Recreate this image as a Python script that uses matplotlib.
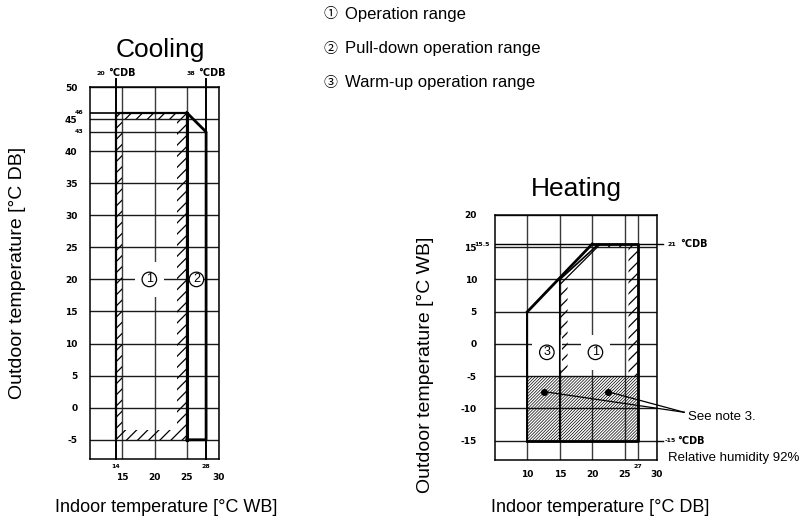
import numpy as np
import matplotlib.pyplot as plt
from matplotlib.path import Path
from matplotlib.patches import PathPatch

plt.rcParams['font.family'] = ['Liberation Sans', 'Noto Sans CJK JP', 'DejaVu Sans']

W, H = 799, 521

# Cooling chart
cool_xticks = [15, 20, 25, 30]
cool_yticks = [-5, 0, 5, 10, 15, 20, 25, 30, 35, 40, 45, 50]
cool_op_x = [14, 14, 25, 25]            # operation range (1)
cool_op_y = [-5, 46, 46, -5]
cool_band_x = [15, 15, 23.5, 23.5]       # inner edge of the hatched band
cool_band_y = [-3.5, 45, 45, -3.5]
cool_pd_x = [25, 28, 28, 25]             # pull-down range (2)
cool_pd_y = [46, 43, -5, -5]
cool_limit_x = [14, 28]
cool_limit_db = ['20', '38']
cool_limit_y = [46, 43]

# Heating chart
heat_xticks = [10, 15, 20, 25, 30]
heat_yticks = [-15, -10, -5, 0, 5, 10, 15, 20]
heat_op_x = [15, 15, 21, 27, 27]         # operation range (1), above -5
heat_op_y = [-5, 10, 15.5, 15.5, -5]
heat_band_x = [16.2, 16.2, 21.9, 25.6, 25.6]
heat_band_y = [-5, 9.8, 15, 15, -5]
heat_wu_x = [10, 20]                     # warm-up range (3) boundary
heat_wu_y = [5, 15.5]
heat_note_x = [10, 27]                   # see note 3 area
heat_note_y = [-15, -5]
note_dot_x = [12.6, 22.4]
note_dot_y = [-7.4, -7.4]
note_tip = (34.2, -10.6)
heat_limit_y = [15.5, -15]
heat_limit_db = ['21', '-15']

legend_items = ['Operation range', 'Pull-down operation range', 'Warm-up operation range']
legend_marks = ['\u2460', '\u2461', '\u2462']

tick_font = dict(family=['Liberation Sans Narrow', 'DejaVu Sans'], weight='bold')


def fx(x):
    return x / W


def fy(y):
    return 1 - y / H


def ring(xo, yo, xi, yi):
    # closed outer outline with the inner outline cut out of it
    outer = list(zip(xo, yo))
    inner = list(zip(xi, yi))[::-1]
    verts = outer + [outer[0]] + inner + [inner[0]]
    codes = ([Path.MOVETO] + [Path.LINETO] * (len(outer) - 1) + [Path.CLOSEPOLY] +
             [Path.MOVETO] + [Path.LINETO] * (len(inner) - 1) + [Path.CLOSEPOLY])
    return Path(verts, codes)


def circled(ax, x, y, s, gap=True):
    if gap:
        ax.text(x, y, s, color='none', fontsize=9, ha='center', va='center', zorder=2,
                bbox=dict(boxstyle='square,pad=0.9', fc='white', ec='none'))
    ax.text(x, y, s, fontsize=9, ha='center', va='center', zorder=4,
            bbox=dict(boxstyle='circle,pad=0.1', fc='white', ec='black', lw=0.9))


def style_axes(ax, xlim, ylim, xticks, yticks, xpad, ypad):
    ax.set_xlim(*xlim)
    ax.set_ylim(*ylim)
    ax.set_xticks(xticks, [str(v) for v in xticks], fontsize=6.5, **tick_font)
    ax.set_yticks(yticks, [str(v) for v in yticks], fontsize=6.5, **tick_font)
    ax.tick_params(length=0)
    ax.tick_params(axis='x', pad=xpad)
    ax.tick_params(axis='y', pad=ypad)
    for sp in ax.spines.values():
        sp.set_linewidth(1.1)
    for v in xticks:
        ax.axvline(v, color='#3a3a3a', lw=1.0, zorder=1)
    for v in yticks:
        ax.axhline(v, color='#1a1a1a', lw=1.0, zorder=1)


fig = plt.figure(figsize=(W / 100, H / 100), dpi=100)

# ---------------- Cooling ----------------
ax1 = fig.add_axes([fx(90), fy(459), fx(129), (459 - 87) / H])
style_axes(ax1, (10, 30), (-8, 50), cool_xticks, cool_yticks, 10, 9)

plt.rcParams['hatch.linewidth'] = 0.9
ax1.add_patch(PathPatch(ring(cool_op_x, cool_op_y, cool_band_x, cool_band_y),
                        fc='none', ec='black', lw=0, hatch='///', zorder=2))

# limit lines running past the top of the frame
for x in cool_limit_x:
    ax1.plot([x, x], [-8, 51.2], color='black', lw=1.4, clip_on=False, zorder=3)
ax1.plot([10, 25], [cool_limit_y[0]] * 2, color='black', lw=1.2, zorder=3)
ax1.plot([10, 28], [cool_limit_y[1]] * 2, color='#1a1a1a', lw=1.0, zorder=1)

ax1.plot(cool_op_x, cool_op_y, color='black', lw=1.6, zorder=3)
ax1.plot(cool_pd_x, cool_pd_y, color='black', lw=2.0, zorder=3)
ax1.plot([25, 25], [-5, 46], color='black', lw=2.2, zorder=3)

circled(ax1, 19.2, 20, '1')
circled(ax1, 26.5, 20, '2', gap=False)

for x, db in zip(cool_limit_x, cool_limit_db):
    ax1.annotate(db, xy=(x, 50), xytext=(-11, 14), textcoords='offset pixels',
                 ha='right', va='center', fontsize=4.5, annotation_clip=False, **tick_font)
    ax1.annotate('°CDB', xy=(x, 50), xytext=(-8, 14), textcoords='offset pixels',
                 ha='left', va='center', fontsize=7, annotation_clip=False, **tick_font)
    ax1.annotate(str(x), xy=(x, -8), xytext=(0, -8), textcoords='offset pixels',
                 ha='center', va='center', fontsize=4.5, annotation_clip=False, **tick_font)
for y in cool_limit_y:
    ax1.annotate(str(y), xy=(10, y), xytext=(-7, 0), textcoords='offset pixels',
                 ha='right', va='center', fontsize=4.5, annotation_clip=False, **tick_font)

fig.text(fx(160), fy(57), 'Cooling', fontsize=19, ha='center', va='baseline')
fig.text(fx(18), fy(273), 'Outdoor temperature [°C DB]', fontsize=14,
         rotation=90, ha='center', va='center')
fig.text(fx(166), fy(508), 'Indoor temperature [°C WB]', fontsize=13,
         ha='center', va='center')

# ---------------- Heating ----------------
ax2 = fig.add_axes([fx(495), fy(460), fx(162), (460 - 215) / H])
style_axes(ax2, (5, 30), (-18, 20), heat_xticks, heat_yticks, 7, 13)
ax2.axvline(27, color='#3a3a3a', lw=1.0, zorder=1)
ax2.axhline(15.5, color='black', lw=1.0, zorder=1)
for y in heat_limit_y:
    ax2.plot([30, 30.9], [y, y], color='black', lw=1.0, clip_on=False)

plt.rcParams['hatch.linewidth'] = 0.9
ax2.add_patch(PathPatch(ring(heat_op_x, heat_op_y, heat_band_x, heat_band_y),
                        fc='none', ec='black', lw=0, hatch='///', zorder=2))
plt.rcParams['hatch.linewidth'] = 0.5
ax2.fill_between(heat_note_x, heat_note_y[0], heat_note_y[1], fc='none', ec='black',
                 lw=0, hatch='/' * 11, zorder=2)

ax2.plot(heat_wu_x, heat_wu_y, color='black', lw=2.0, zorder=3)
ax2.plot([10, 10], [-15, 5], color='black', lw=1.4, zorder=3)
ax2.plot(heat_op_x[:3], [-15] + heat_op_y[1:3], color='black', lw=1.2, zorder=3)
ax2.plot([20, 27, 27, 10], [15.5, 15.5, -15, -15], color='black', lw=2.0, zorder=3)

circled(ax2, 13.0, -1.3, '3')
circled(ax2, 20.5, -1.3, '1')

ax2.plot(note_dot_x, note_dot_y, 'o', color='black', ms=4, zorder=4)
for x, y in zip(note_dot_x, note_dot_y):
    ax2.plot([x, note_tip[0]], [y, note_tip[1]], color='black', lw=0.9,
             clip_on=False, zorder=4)

for y, db, off in zip(heat_limit_y, heat_limit_db, [11, 8]):
    ax2.annotate(db, xy=(30, y), xytext=(off, 0), textcoords='offset pixels',
                 ha='left', va='center', fontsize=4.5, annotation_clip=False, **tick_font)
    ax2.annotate('°CDB', xy=(30, y), xytext=(off + 12, 0), textcoords='offset pixels',
                 ha='left', va='center', fontsize=7, annotation_clip=False, **tick_font)
ax2.annotate('15.5', xy=(5, 15.5), xytext=(-5, 0), textcoords='offset pixels',
             ha='right', va='center', fontsize=4.5, annotation_clip=False, **tick_font)
ax2.annotate('27', xy=(27, -18), xytext=(0, -7), textcoords='offset pixels',
             ha='center', va='center', fontsize=4.5, annotation_clip=False, **tick_font)

fig.text(fx(688), fy(417), 'See note 3.', fontsize=9.5, ha='left', va='center')
fig.text(fx(668), fy(458), 'Relative humidity 92%', fontsize=9.5, ha='left', va='center')

fig.text(fx(576), fy(196), 'Heating', fontsize=19, ha='center', va='baseline')
fig.text(fx(425), fy(365), 'Outdoor temperature [°C WB]', fontsize=14,
         rotation=90, ha='center', va='center')
fig.text(fx(600), fy(508), 'Indoor temperature [°C DB]', fontsize=13,
         ha='center', va='center')

# ---------------- Legend ----------------
for i, (mark, item) in enumerate(zip(legend_marks, legend_items)):
    yy = 14 + 34.5 * i
    fig.text(fx(330), fy(yy), mark, fontsize=10, ha='center', va='center')
    fig.text(fx(345), fy(yy), item, fontsize=12, ha='left', va='center')

fig.savefig('out.png', dpi=100)
